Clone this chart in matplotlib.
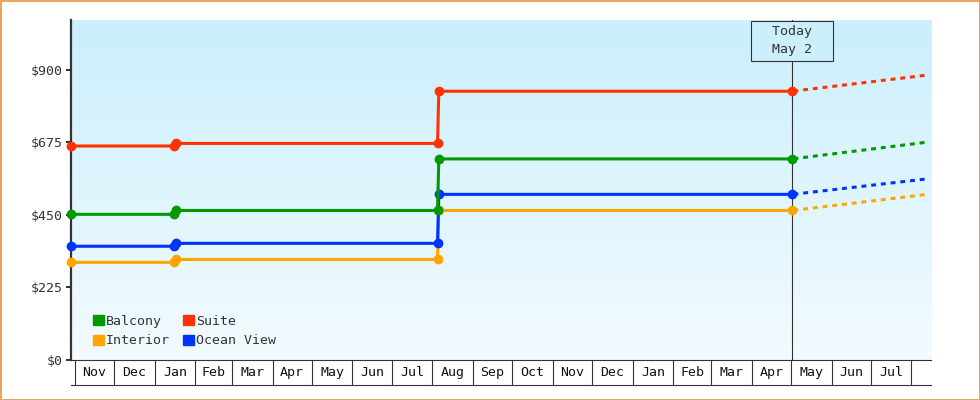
import numpy as np
import pandas as pd
import matplotlib
matplotlib.use('Agg')
import matplotlib.pyplot as plt
import matplotlib.transforms as mtransforms
from matplotlib.patches import Patch, Rectangle

plt.rcParams['font.family'] = ['DejaVu Sans Mono']

# price history (step points) and forecast
dates = pd.to_datetime(['2022-10-29', '2023-01-16', '2023-01-17',
                        '2023-08-05', '2023-08-06', '2024-05-02'])
forecast_dates = pd.to_datetime(['2024-05-02', '2024-08-13'])

suite = [664, 664, 672, 672, 834, 834]
balcony = [452, 452, 464, 464, 624, 624]
ocean_view = [353, 353, 362, 362, 514, 514]
interior = [303, 303, 312, 312, 464, 464]

suite_fc = [834, 884]
balcony_fc = [624, 676]
ocean_view_fc = [514, 562]
interior_fc = [464, 514]

month_labels = ['Nov', 'Dec', 'Jan', 'Feb', 'Mar', 'Apr', 'May', 'Jun', 'Jul', 'Aug', 'Sep',
                'Oct', 'Nov', 'Dec', 'Jan', 'Feb', 'Mar', 'Apr', 'May', 'Jun', 'Jul']
yticks = [0, 225, 450, 675, 900]

today = pd.Timestamp('2024-05-02')
xmin, xmax = pd.Timestamp('2022-10-29'), pd.Timestamp('2024-08-16')

col_suite = '#FF3300'
col_balcony = '#009900'
col_ocean = '#0033FF'
col_interior = '#FFA500'
dark = '#333333'

fig = plt.figure(figsize=(9.8, 4.0), dpi=100)
ax = fig.add_axes([71 / 980, 40 / 400, 860 / 980, 340 / 400])

# gradient background
grad = np.linspace(0, 1, 256).reshape(-1, 1)
cmap = matplotlib.colors.LinearSegmentedColormap.from_list('bg', ['#CBEFFC', '#F3FBFF'])
ax.imshow(grad, cmap=cmap, extent=[0, 1, 0, 1], transform=ax.transAxes,
          aspect='auto', zorder=0)

series = [(interior, interior_fc, col_interior),
          (ocean_view, ocean_view_fc, col_ocean),
          (balcony, balcony_fc, col_balcony),
          (suite, suite_fc, col_suite)]
for vals, fc, c in series:
    ax.plot(dates, vals, color=c, lw=2.2, marker='o', ms=6, zorder=3, clip_on=False)
    ax.plot(forecast_dates, fc, color=c, lw=2.2, linestyle=(2.8, (1.6, 1.6)), zorder=3)

ax.set_xlim(xmin, xmax)
ax.set_ylim(0, 1055)

# today marker
trans = mtransforms.blended_transform_factory(ax.transData, ax.transAxes)
ax.plot([today, today], [0, 1], transform=trans, color=dark, lw=0.8, zorder=2)
ax.text(today, 1 - 0.016, '  Today  \n  May 2  ', transform=trans, ha='center', va='top',
        fontsize=9.5, color=dark, linespacing=1.45, zorder=4,
        bbox=dict(boxstyle='square,pad=0.36', fc='#CDEFFC', ec=dark, lw=0.8))

# y axis
ax.set_yticks(yticks)
ax.set_yticklabels(['$' + str(v) for v in yticks])
ax.tick_params(axis='y', length=3.6, width=1.44, pad=2.2, colors=dark, labelsize=9.5)
ax.set_xticks([])
for s in ['top', 'right']:
    ax.spines[s].set_visible(False)
ax.spines['left'].set_linewidth(1.6)
ax.spines['left'].set_color(dark)
ax.spines['bottom'].set_linewidth(0.8)
ax.spines['bottom'].set_color(dark)

# month boxes under the axis
month_starts = pd.date_range('2022-11-01', '2024-08-01', freq='MS')
box_h = 25 / 340
ax.vlines(month_starts, -box_h, 0, transform=trans, color=dark, lw=0.8, clip_on=False)
ax.plot([xmin, xmax], [-box_h, -box_h], transform=trans, color=dark, lw=0.8, clip_on=False)
for i, lab in enumerate(month_labels):
    mid = month_starts[i] + (month_starts[i + 1] - month_starts[i]) / 2
    ax.text(mid, -box_h / 2, lab, transform=trans, ha='center', va='center',
            fontsize=9.5, color='#111111')

# legend
handles = [Patch(color=col_balcony, label='Balcony'),
           Patch(color=col_interior, label='Interior'),
           Patch(color=col_suite, label='Suite'),
           Patch(color=col_ocean, label='Ocean View')]
leg = ax.legend(handles=handles, ncol=2, loc='lower left', bbox_to_anchor=(0.025, 0.037),
                frameon=False, fontsize=9.5, handlelength=0.85, handleheight=0.85,
                handletextpad=0.15, columnspacing=1.0, labelspacing=0.52, borderpad=0,
                borderaxespad=0)
for t in leg.get_texts():
    t.set_color(dark)

# figure border
fig.add_artist(Rectangle((0, 0), 1, 1, transform=fig.transFigure, fill=False,
                         ec='#E8A65E', lw=2.2))

fig.savefig('out.png', dpi=100)
